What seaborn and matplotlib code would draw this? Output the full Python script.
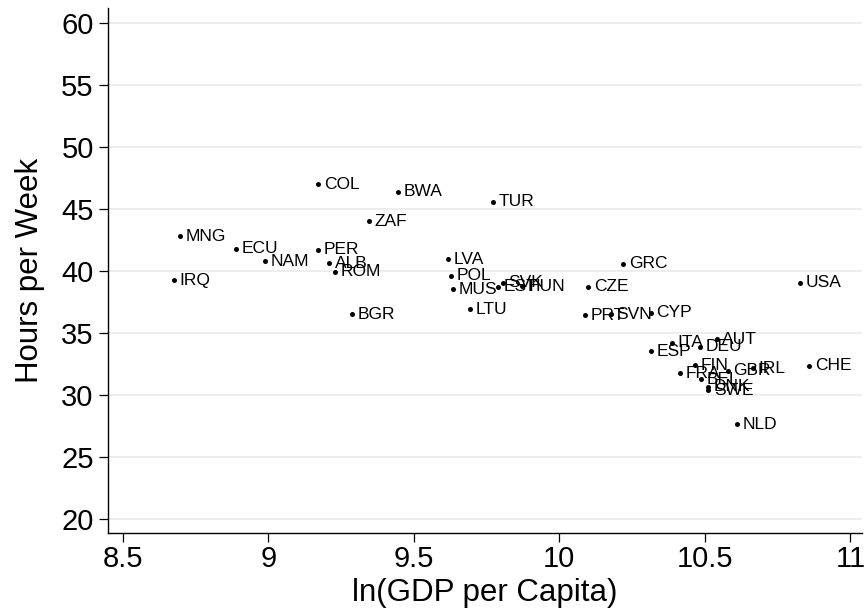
import matplotlib
matplotlib.use("Agg")
import matplotlib.pyplot as plt
import seaborn as sns
import pandas as pd

countries = ["COL", "BWA", "TUR", "ZAF", "MNG", "ECU", "NAM", "PER", "ALB", "ROM",
             "IRQ", "BGR", "LVA", "POL", "MUS", "LTU", "SVK", "EST", "HUN", "CZE",
             "GRC", "USA", "PRT", "SVN", "CYP", "ITA", "DEU", "AUT", "ESP", "FIN",
             "FRA", "GBR", "IRL", "CHE", "BEL", "DNK", "SWE", "NLD"]
ln_gdp = [9.172, 9.447, 9.771, 9.345, 8.697, 8.888, 8.989, 9.170, 9.210, 9.230,
          8.677, 9.289, 9.619, 9.628, 9.636, 9.692, 9.806, 9.791, 9.872, 10.100,
          10.220, 10.827, 10.089, 10.178, 10.314, 10.387, 10.484, 10.541, 10.315, 10.467,
          10.415, 10.578, 10.665, 10.859, 10.488, 10.512, 10.512, 10.610]
hours = [46.99, 46.37, 45.57, 44.01, 42.80, 41.81, 40.79, 41.73, 40.63, 39.93,
         39.26, 36.52, 40.95, 39.61, 38.51, 36.92, 39.07, 38.72, 38.75, 38.72,
         40.60, 39.04, 36.44, 36.52, 36.62, 34.21, 33.88, 34.50, 33.54, 32.41,
         31.74, 31.95, 32.14, 32.35, 31.28, 30.66, 30.39, 27.63]

x_ticks = [8.5, 9, 9.5, 10, 10.5, 11]
x_tick_labels = ["8.5", "9", "9.5", "10", "10.5", "11"]
y_ticks = [20, 25, 30, 35, 40, 45, 50, 55, 60]

df = pd.DataFrame({"country": countries, "lngdp": ln_gdp, "hours": hours})

sns.set_style("white")
plt.rcParams["font.family"] = ["Liberation Sans", "DejaVu Sans"]

fig = plt.figure(figsize=(8.68, 6.13), dpi=100)
ax = fig.add_axes([108.3 / 868, 80.3 / 613, (862 - 108.3) / 868, (605 - 80.3) / 613])

ax.set_xlim(8.4505, 11.04)
ax.set_ylim(18.9, 61.2)
ax.set_yticks(y_ticks)
ax.set_yticklabels([str(v) for v in y_ticks])
ax.set_xticks(x_ticks)
ax.set_xticklabels(x_tick_labels)
ax.grid(axis="y", color="#e8e8e8", linewidth=1.1)
ax.grid(axis="x", visible=False)
ax.set_axisbelow(True)

sns.scatterplot(data=df, x="lngdp", y="hours", ax=ax, color="black", s=13,
                linewidth=0, zorder=3)

for c, xv, yv in zip(df["country"], df["lngdp"], df["hours"]):
    ax.annotate(c, (xv, yv), xytext=(4.0, 0), textcoords="offset points",
                ha="left", va="center", fontsize=12.5, color="black", zorder=4)

for side in ["top", "right"]:
    ax.spines[side].set_visible(False)
for side in ["left", "bottom"]:
    ax.spines[side].set_color("black")
    ax.spines[side].set_linewidth(1.0)

ax.tick_params(axis="both", which="major", direction="out", length=6.5, width=0.9,
               color="black", labelsize=21, labelcolor="black", left=True, bottom=True)
ax.tick_params(axis="y", pad=4.0)
ax.tick_params(axis="x", pad=2.0)

ax.set_xlabel("ln(GDP per Capita)", fontsize=22.5, color="black")
ax.set_ylabel("Hours per Week", fontsize=22.5, color="black")
ax.xaxis.set_label_coords(0.5, -0.115)
ax.xaxis.label.set_va("center")
ax.yaxis.set_label_coords(-0.104, 0.5)
ax.yaxis.label.set_va("center")

fig.savefig("out.png", dpi=100, facecolor="white")
